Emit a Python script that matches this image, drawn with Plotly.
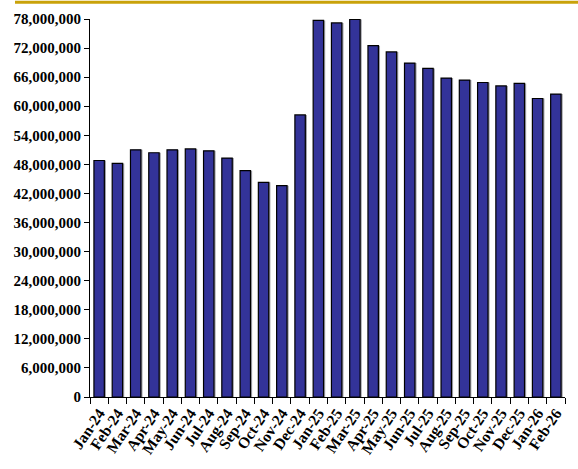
import plotly.graph_objects as go

months = ["Jan-24", "Feb-24", "Mar-24", "Apr-24", "May-24", "Jun-24", "Jul-24", "Aug-24",
          "Sep-24", "Oct-24", "Nov-24", "Dec-24", "Jan-25", "Feb-25", "Mar-25", "Apr-25",
          "May-25", "Jun-25", "Jul-25", "Aug-25", "Sep-25", "Oct-25", "Nov-25", "Dec-25",
          "Jan-26", "Feb-26"]
values = [48.8, 48.2, 51.0, 50.4, 51.0, 51.2, 50.8, 49.3, 46.7, 44.3, 43.6, 58.2,
          77.7, 77.2, 77.9, 72.5, 71.2, 68.9, 67.8, 65.8, 65.4, 64.9, 64.2, 64.7,
          61.6, 62.5]
values = [v * 1_000_000 for v in values]
y_ticks = list(range(0, 78_000_001, 6_000_000))

W = 0.57
FAM = "Liberation Serif, Times New Roman, serif"

fig = go.Figure()
fig.add_trace(go.Bar(x=months, y=values, width=W, offset=-W / 2 + 0.09,
                     marker=dict(color="#a0a0a8", line=dict(width=0)),
                     hoverinfo="skip", showlegend=False))
fig.add_trace(go.Bar(x=months, y=values, width=W, offset=-W / 2,
                     marker=dict(color="#333399", line=dict(color="black", width=1.2)),
                     showlegend=False))

fig.update_layout(
    width=578, height=469,
    margin=dict(l=90, r=13, t=19, b=72),
    barmode="overlay",
    plot_bgcolor="white", paper_bgcolor="white",
    font=dict(family=FAM, color="black"),
    shapes=[dict(type="line", xref="paper", yref="paper",
                 x0=-75 / 475, x1=1.03, y0=1.044, y1=1.044,
                 line=dict(color="#C9A20A", width=3))],
)
fig.update_xaxes(
    type="category", tickmode="array", tickvals=months, ticktext=months,
    tickangle=-56, tickson="boundaries", automargin=False,
    ticks="outside", ticklen=6, tickcolor="black", tickwidth=1,
    showline=True, linecolor="black", linewidth=1.2,
    showgrid=False, tickfont=dict(family=FAM, size=15.5, color="black", weight="bold"),
    range=[-0.5, len(months) - 0.5],
)
fig.update_yaxes(
    range=[0, 78_000_000], tickvals=y_ticks, automargin=False,
    ticktext=[f"{v:,}" for v in y_ticks],
    ticks="outside", ticklen=5, tickcolor="black", tickwidth=1,
    showline=True, linecolor="black", linewidth=1.2,
    showgrid=False, zeroline=False,
    tickfont=dict(family=FAM, size=15, color="black", weight="bold"),
)

fig.write_html("out.html")
